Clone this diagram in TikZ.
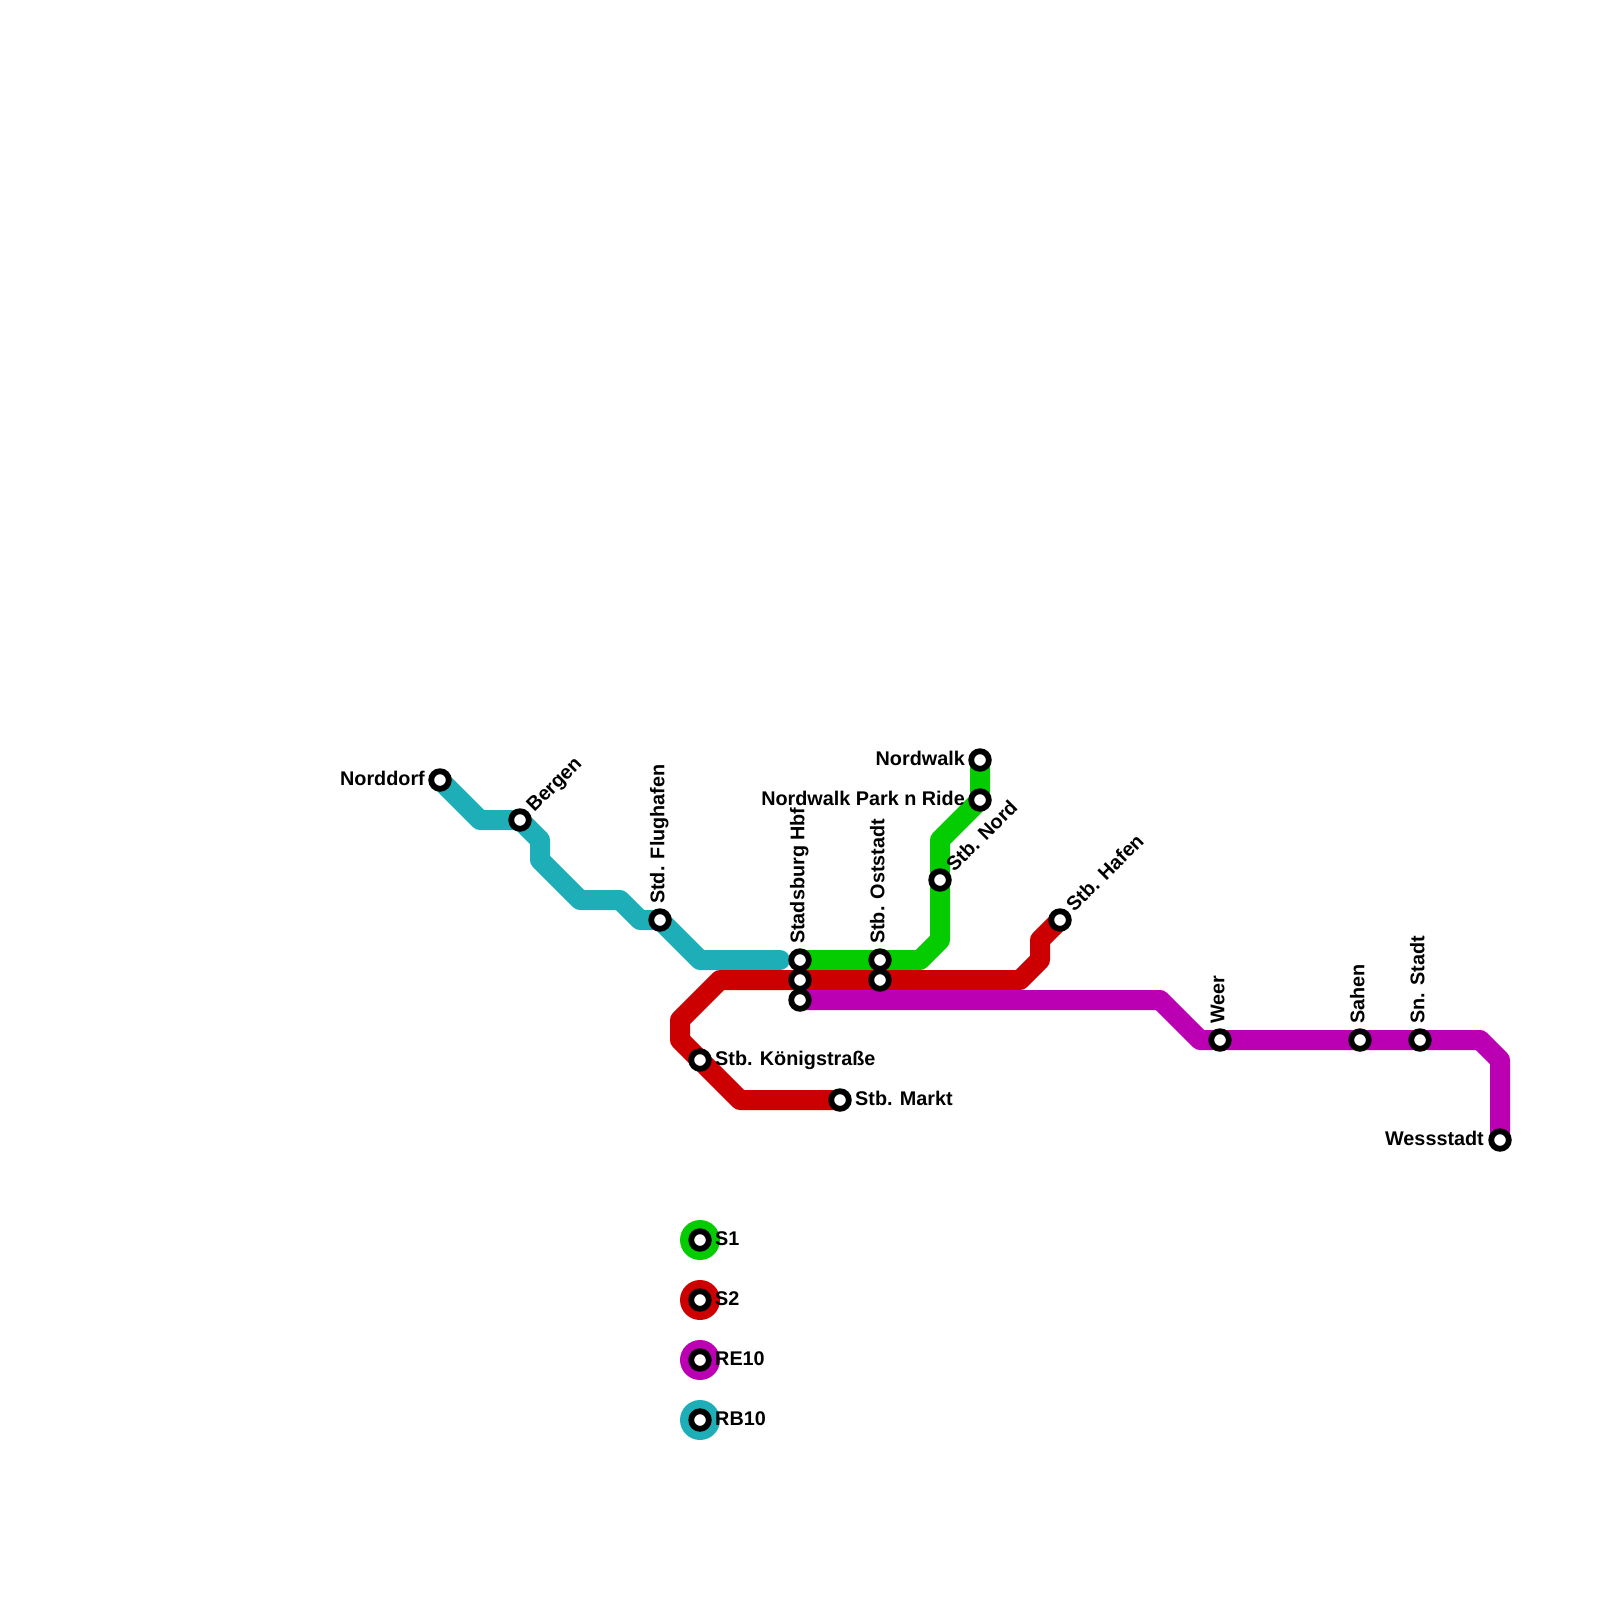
\documentclass[tikz,border=0pt]{standalone}
\usepackage{fontspec}
\setmainfont{Liberation Sans}
\usepackage{xcolor}
\usetikzlibrary{backgrounds}
\definecolor{sbgreen}{RGB}{5,204,0}
\definecolor{sbred}{RGB}{204,0,0}
\definecolor{repurple}{RGB}{187,0,179}
\definecolor{rbteal}{RGB}{30,174,184}

\begin{document}
\begin{tikzpicture}[
  x=1pt, y=-1pt,
  line/.style={line width=20pt, line join=round, line cap=round},
  station/.style={circle, draw=black, fill=white, line width=5.8pt,
                  minimum size=17.6pt, inner sep=0pt},
  legendbg/.style={circle, minimum size=40pt, inner sep=0pt},
  lbl/.style={font=\fontsize{19.8}{20}\selectfont\bfseries, inner sep=0pt,
              text height=14.5pt, text depth=4pt},
  lblright/.style={lbl, anchor=west},
  lblleft/.style={lbl, anchor=east},
  lblup/.style={lbl, rotate=90, anchor=west},
  lbldiag/.style={lbl, rotate=45, anchor=west},
]
\useasboundingbox (0,0) rectangle (1600,1600);

%% Stations
\node[station] (norddorf) at (440,780) {};
\node[station] (bergen)   at (520,820) {};
\node[station] (flughafen) at (660,920) {};
\node[station] (hbfone)   at (800,960) {};
\node[station] (hbftwo)   at (800,980) {};
\node[station] (hbfthree) at (800,1000) {};
\node[station] (ostone)   at (880,960) {};
\node[station] (osttwo)   at (880,980) {};
\node[station] (nord)     at (940,880) {};
\node[station] (nordwalk) at (980,760) {};
\node[station] (parkride) at (980,800) {};
\node[station] (hafen)    at (1060,920) {};
\node[station] (koenig)   at (700,1060) {};
\node[station] (markt)    at (840,1100) {};
\node[station] (weer)     at (1220,1040) {};
\node[station] (sahen)    at (1360,1040) {};
\node[station] (snstadt)  at (1420,1040) {};
\node[station] (wess)     at (1500,1140) {};
\coordinate (tealend) at (780,960);

%% Lines
\begin{scope}[on background layer]
\draw[line, rbteal] (norddorf.center) -- ++(40,40) -- (bergen.center)
  -- ++(20,20) -- ++(0,20) -- ++(40,40) -- ++(40,0) -- ++(20,20)
  -- (flughafen.center) -- ++(40,40) -- (tealend);
\draw[line, sbgreen] (nordwalk.center) -- (parkride.center) -- ++(-40,40)
  -- (nord.center) -- ++(0,60) -- ++(-20,20) -- (ostone.center)
  -- (hbfone.center);
\draw[line, sbred] (hafen.center) -- ++(-20,20) -- ++(0,20) -- ++(-20,20)
  -- (osttwo.center) -- (hbftwo.center) -- ++(-80,0) -- ++(-40,40)
  -- ++(0,20) -- (koenig.center) -- ++(40,40) -- (markt.center);
\draw[line, repurple] (hbfthree.center) -- ++(360,0) -- ++(40,40)
  -- (weer.center) -- (sahen.center) -- (snstadt.center) -- ++(60,0)
  -- ++(20,20) -- (wess.center);
\end{scope}

%% Station labels
\node[lblleft]  (norddorflab) at (425,780) {Norddorf};
\node[lbldiag]  (bergenlab)   at (530.6,809.4) {Bergen};
\node[lblup]    (flughafenlab) at (659,904) {Std. Flughafen};
\node[lblup]    (hbflab)      at (799,944) {Stadsburg Hbf};
\node[lblup]    (ostlab)      at (879,944) {Stb. Oststadt};
\node[lbldiag]  (nordlab)     at (950.6,869.4) {Stb. Nord};
\node[lblleft]  (nordwalklab) at (965,760) {Nordwalk};
\node[lblleft]  (parkridelab) at (965,800) {Nordwalk Park n Ride};
\node[lbldiag]  (hafenlab)    at (1070.6,909.4) {Stb. Hafen};
\node[lblright] (koeniglab)   at (715,1060) {Stb. Königstraße};
\node[lblright] (marktlab)    at (855,1100) {Stb. Markt};
\node[lblup]    (weerlab)     at (1219,1024) {Weer};
\node[lblup]    (sahenlab)    at (1359,1024) {Sahen};
\node[lblup]    (snstadtlab)  at (1419,1024) {Sn. Stadt};
\node[lblleft]  (wesslab)     at (1484,1140) {Wessstadt};

%% Legend
\foreach \name/\col/\ypos/\txt in {sone/sbgreen/1240/S1, stwo/sbred/1300/S2,
    reten/repurple/1360/RE10, rbten/rbteal/1420/RB10} {
  \node[legendbg, fill=\col] (\name bg) at (700,\ypos) {};
  \node[station] (\name) at (700,\ypos) {};
  \node[lblright] (\name lab) at (715,\ypos) {\txt};
}

\end{tikzpicture}
\end{document}
